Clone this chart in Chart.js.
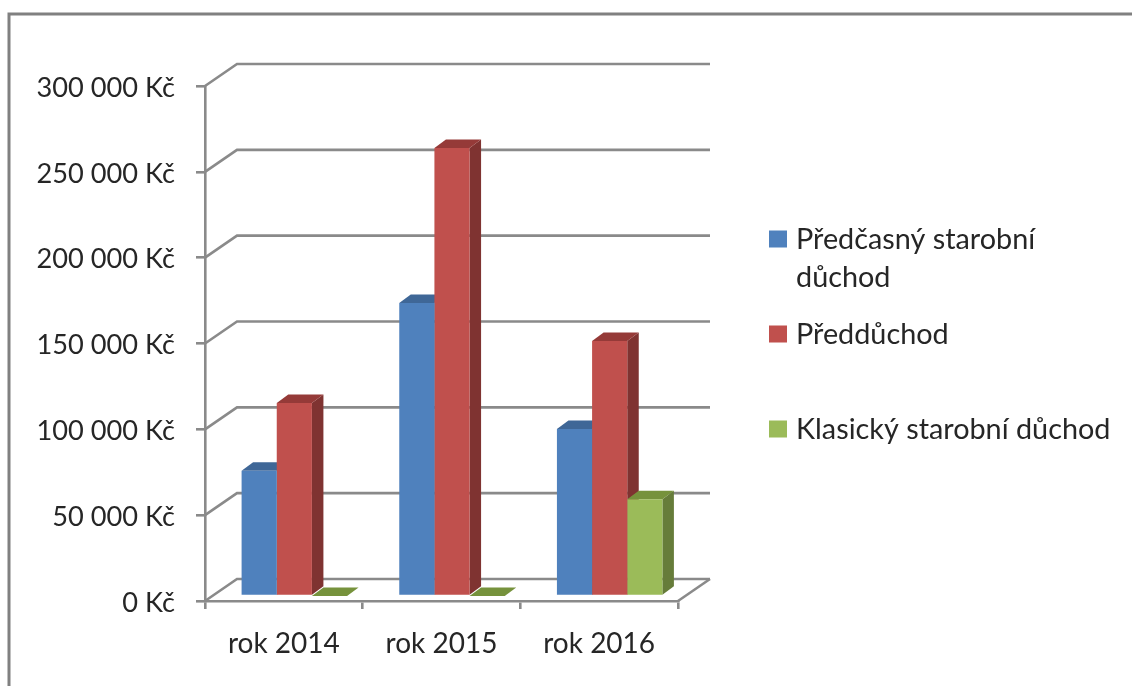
<!DOCTYPE html>
<html><head><meta charset="utf-8">
<style>html,body{margin:0;padding:0;background:#fff}#w{width:1132px;height:686px;overflow:hidden}canvas{display:block;filter:blur(0.45px)}</style>
<script src="https://cdn.jsdelivr.net/npm/chart.js@4"></script>
</head><body><div id="w"><canvas id="c" width="1132" height="686"></canvas></div>
<script>
const categories = ["rok 2014", "rok 2015", "rok 2016"];
const predcasny = [73000, 170700, 97300];
const preddůchod = [112500, 261000, 148600];
const klasicky = [0, 0, 56300];
const seriesNames = ["Předčasný starobní důchod", "Předdůchod", "Klasický starobní důchod"];
const legendLines = [["Předčasný starobní", "důchod"], ["Předdůchod"], ["Klasický starobní důchod"]];
const legendY = [240, 335, 430];
const front = ["#4f81bd", "#c0504d", "#9bbb59"];
const sideCol = ["#385d8a", "#7f3331", "#667c3a"];
const topCol = ["#3f6797", "#953a38", "#76923c"];
const GRAY = "#8a8a8a", TEXT = "#262626", FONT = "Lato";
const WALL = {dx: 32, dy: 22}, BAR = {dx: 10.5, dy: 5, ox: 11.5, oy: 8.5};

function poly(ctx, pts, col){
  ctx.fillStyle = col; ctx.beginPath();
  pts.forEach((p,i)=> i?ctx.lineTo(p[0],p[1]):ctx.moveTo(p[0],p[1]));
  ctx.closePath(); ctx.fill();
}
const threeD = {
  id: "threeD",
  beforeDraw(chart){
    const {ctx, chartArea:a, scales:{y}} = chart;
    ctx.save();
    ctx.strokeStyle = "#808080"; ctx.lineWidth = 3;
    ctx.beginPath(); ctx.moveTo(9, 686); ctx.lineTo(9, 14); ctx.lineTo(1132, 14); ctx.stroke();
    ctx.strokeStyle = GRAY; ctx.lineWidth = 2.6;
    y.ticks.forEach(t=>{
      const py = y.getPixelForValue(t.value);
      ctx.beginPath(); ctx.moveTo(a.left, py); ctx.lineTo(a.left+WALL.dx, py-WALL.dy); ctx.lineTo(a.right+WALL.dx, py-WALL.dy); ctx.stroke();
    });
    const b = y.getPixelForValue(0);
    ctx.beginPath(); ctx.moveTo(a.right, b); ctx.lineTo(a.right+WALL.dx, b-WALL.dy); ctx.stroke();
    ctx.restore();
  },
  beforeDatasetsDraw(chart){
    const ctx = chart.ctx;
    ctx.save(); ctx.translate(BAR.dx, -BAR.dy);
    chart.data.datasets.forEach((ds,i)=>{
      chart.getDatasetMeta(i).data.forEach(el=>{
        const l = el.x-el.width/2, r = el.x+el.width/2, t = el.y, b = el.base;
        poly(ctx, [[r,t],[r+BAR.ox,t-BAR.oy],[r+BAR.ox,b-BAR.oy],[r,b]], sideCol[i]);
        poly(ctx, [[l,t],[l+BAR.ox,t-BAR.oy],[r+BAR.ox,t-BAR.oy],[r,t]], topCol[i]);
      });
    });
  },
  afterDatasetsDraw(chart){ chart.ctx.restore(); },
  afterDraw(chart){
    const ctx = chart.ctx;
    ctx.save(); ctx.textBaseline = "middle"; ctx.textAlign = "left";
    ctx.font = "28.8px " + FONT;
    legendLines.forEach((lines,i)=>{
      ctx.fillStyle = front[i]; ctx.fillRect(769, legendY[i]-9.5, 18, 17);
      ctx.fillStyle = TEXT;
      lines.forEach((s,j)=> ctx.fillText(s, 796, legendY[i]+j*38));
    });
    ctx.restore();
  }
};
const fmt = v => String(v).replace(/\B(?=(\d{3})+$)/g, " ") + " Kč";
new Chart(document.getElementById("c"), {
  type: "bar",
  data: { labels: categories, datasets: [predcasny, preddůchod, klasicky].map((d,i)=>({
    label: seriesNames[i], data: d, backgroundColor: front[i], borderWidth: 0, clip: false })) },
  plugins: [threeD],
  options: {
    responsive: false, animation: false,
    layout: {padding: {top: 86, right: 454, left: 0, bottom: 0}},
    categoryPercentage: 0.669, barPercentage: 1,
    plugins: {legend: {display: false}, tooltip: {enabled: false}},
    scales: {
      x: { afterFit(s){s.height = 85;},
        grid: {drawOnChartArea: false, color: GRAY, lineWidth: 2.6, tickLength: 8},
        border: {color: GRAY, width: 2.6},
        ticks: {color: TEXT, font: {family: FONT, size: 28}, padding: 18, maxRotation: 0} },
      y: { min: 0, max: 300000, afterFit(s){s.width = 205;},
        grid: {drawOnChartArea: false, color: GRAY, lineWidth: 2.6, tickLength: 9},
        border: {color: GRAY, width: 2.6},
        ticks: {stepSize: 50000, color: TEXT, font: {family: FONT, size: 27.2}, padding: 21, labelOffset: 2, callback: fmt} }
    }
  }
});
</script></body></html>
